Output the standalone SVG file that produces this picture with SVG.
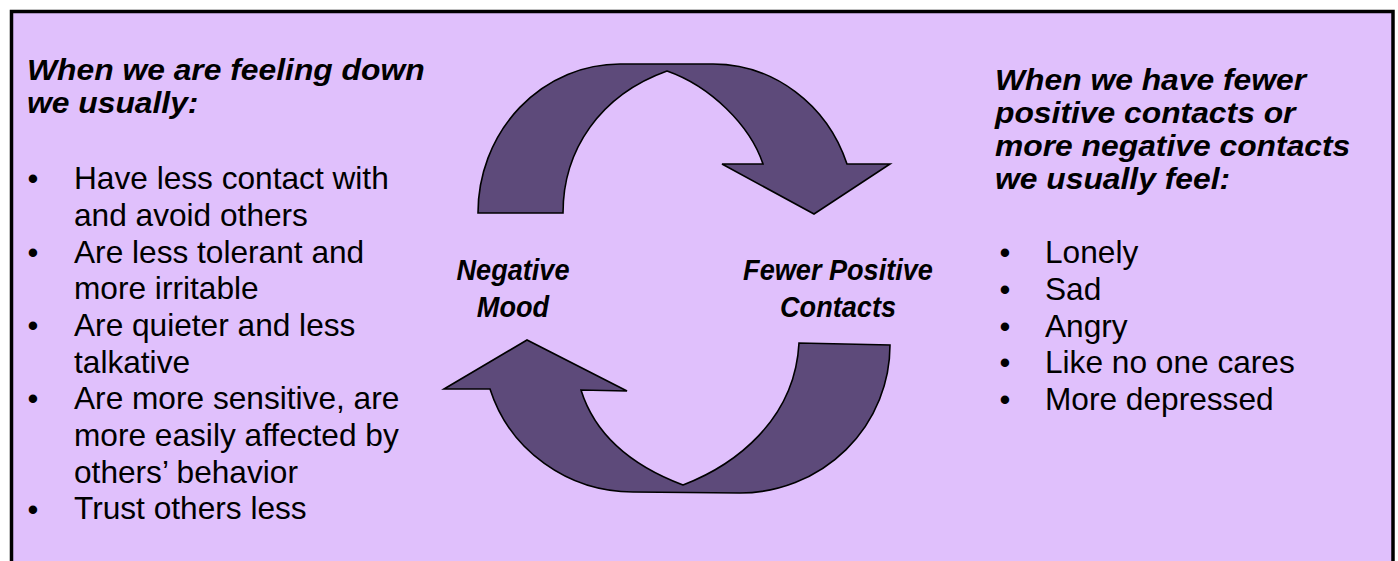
<svg xmlns="http://www.w3.org/2000/svg" width="1398" height="561" viewBox="0 0 1398 561">
<style>
.hdr{font-family:"Liberation Sans",Arial,sans-serif;font-size:30px;font-weight:bold;font-style:italic;fill:#000}
.body{font-family:"Liberation Sans",Arial,sans-serif;font-size:31px;fill:#000}
.bul{font-family:"Liberation Sans",Arial,sans-serif;font-size:31px;fill:#000;text-anchor:middle}
.lbl{font-family:"Liberation Sans",Arial,sans-serif;font-size:29px;font-weight:bold;font-style:italic;fill:#000;text-anchor:middle}
.arrow{fill:#5D4A7A;stroke:#000;stroke-width:1.6;stroke-linejoin:miter}
</style>
<rect x="0" y="0" width="1398" height="561" fill="#FFFFFF"/>
<rect id="frame" x="11.5" y="11.5" width="1381.5" height="600" fill="#E0C0FC" stroke="#000" stroke-width="3.5"/>

<g id="connectors">
<path class="arrow" d="M478,213 A142,149 0 0 1 620,64 L713,64 A142,149 0 0 1 847,164 L890,164 L814,214 L722,164 L763,164 C750,125 710,86 667,71 C600,95 563,150 563,213 Z"/>
<path class="arrow" d="M444,389 L527,340 L627,391 L581,390 C595,435 630,465 683,485 C735,465 795,420 799,343 L890,345 A150,148 0 0 1 740,493 L633,492 A150,147 0 0 1 490,389 Z"/>
</g>

<g id="node-negative-mood">
<g transform="translate(513,0) scale(0.935,1)">
<text class="lbl" x="0" y="280">Negative</text>
<text class="lbl" x="0" y="317">Mood</text>
</g>
</g>

<g id="node-fewer-positive-contacts">
<g transform="translate(838,0) scale(0.935,1)">
<text class="lbl" x="0" y="280">Fewer Positive</text>
<text class="lbl" x="0" y="317">Contacts</text>
</g>
</g>

<g id="left-panel">
<g transform="translate(27,0) scale(1.061,1)">
<text class="hdr" x="0" y="80.5">When we are feeling down</text>
<text class="hdr" x="0" y="113">we usually:</text>
</g>
<g>
<text class="bul" x="33" y="189.3">•</text>
<text class="bul" x="33" y="262.7">•</text>
<text class="bul" x="33" y="336">•</text>
<text class="bul" x="33" y="409.4">•</text>
<text class="bul" x="33" y="519.5">•</text>
</g>
<g transform="translate(74,0) scale(1.021,1)">
<text class="body" x="0" y="189.3">Have less contact with</text>
<text class="body" x="0" y="226">and avoid others</text>
<text class="body" x="0" y="262.7">Are less tolerant and</text>
<text class="body" x="0" y="299.4">more irritable</text>
<text class="body" x="0" y="336">Are quieter and less</text>
<text class="body" x="0" y="372.7">talkative</text>
<text class="body" x="0" y="409.4">Are more sensitive, are</text>
<text class="body" x="0" y="446">more easily affected by</text>
<text class="body" x="0" y="482.8">others’ behavior</text>
<text class="body" x="0" y="519.5">Trust others less</text>
</g>
</g>

<g id="right-panel">
<g transform="translate(995,0) scale(1.061,1)">
<text class="hdr" x="0" y="90.5">When we have fewer</text>
<text class="hdr" x="0" y="123.5">positive contacts or</text>
<text class="hdr" x="0" y="156.5">more negative contacts</text>
<text class="hdr" x="0" y="189.5">we usually feel:</text>
</g>
<g>
<text class="bul" x="1005" y="263.3">•</text>
<text class="bul" x="1005" y="300">•</text>
<text class="bul" x="1005" y="336.7">•</text>
<text class="bul" x="1005" y="373.3">•</text>
<text class="bul" x="1005" y="410">•</text>
</g>
<g transform="translate(1045,0) scale(1.021,1)">
<text class="body" x="0" y="263.3">Lonely</text>
<text class="body" x="0" y="300">Sad</text>
<text class="body" x="0" y="336.7">Angry</text>
<text class="body" x="0" y="373.3">Like no one cares</text>
<text class="body" x="0" y="410">More depressed</text>
</g>
</g>
</svg>
